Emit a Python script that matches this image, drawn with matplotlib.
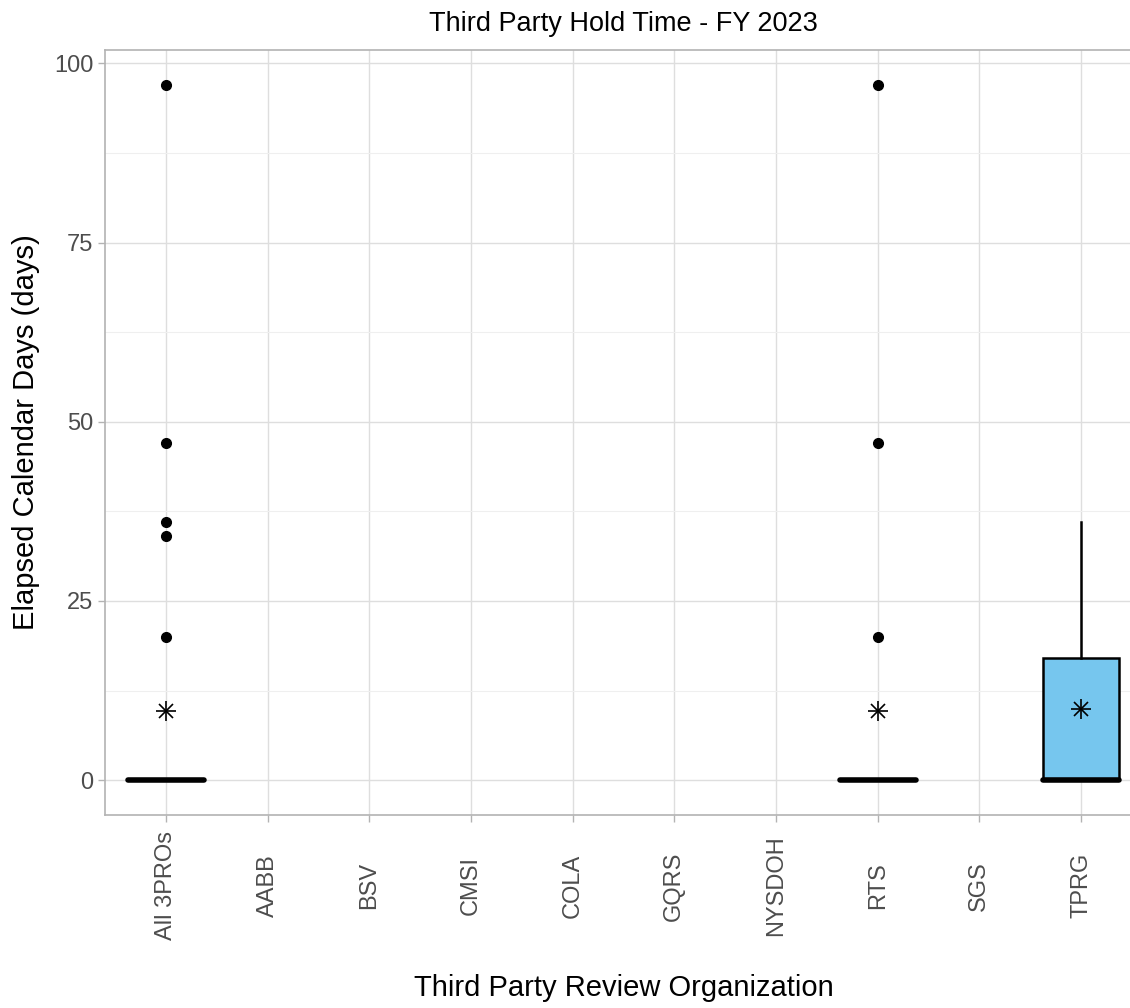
import matplotlib
matplotlib.use("Agg")
import matplotlib.pyplot as plt

plt.rcParams['font.family'] = ['Liberation Sans', 'DejaVu Sans']

# categories on the x axis
orgs = ["All 3PROs", "AABB", "BSV", "CMSI", "COLA", "GQRS", "NYSDOH", "RTS", "SGS", "TPRG"]

# box stats, only for the orgs that have data
box_orgs = ["All 3PROs", "RTS", "TPRG"]
q1 = [0, 0, 0]
med = [0, 0, 0]
q3 = [0, 0, 17]
whislo = [0, 0, 0]
whishi = [0, 0, 36]
means = [9.7, 9.7, 10.0]
fliers = [[20, 34, 36, 47, 97], [20, 47, 97], []]

fill = "#76C6EE"

fig = plt.figure(figsize=(11.3, 10.08), dpi=100)
ax = fig.add_axes([105/1130, 1 - 815/1008, (1142 - 105)/1130, (815 - 50)/1008])

stats = []
for i in range(len(box_orgs)):
    stats.append(dict(q1=q1[i], med=med[i], q3=q3[i], whislo=whislo[i],
                      whishi=whishi[i], fliers=fliers[i], mean=means[i]))
pos = [orgs.index(o) + 1 for o in box_orgs]

ax.bxp(stats, positions=pos, widths=0.75, patch_artist=True, showcaps=False,
       boxprops=dict(facecolor=fill, edgecolor="black", linewidth=1.8),
       medianprops=dict(color="black", linewidth=4, solid_capstyle="round"),
       whiskerprops=dict(color="black", linewidth=1.8),
       flierprops=dict(marker="o", markerfacecolor="black", markeredgecolor="black",
                       markersize=7),
       zorder=3)

# mean as asterisk (plus + x)
ax.plot(pos, means, linestyle="none", marker="+", color="black", markersize=15,
        markeredgewidth=1.2, zorder=4)
ax.plot(pos, means, linestyle="none", marker="x", color="black", markersize=10.5,
        markeredgewidth=1.2, zorder=4)

ax.set_xlim(0.4, 10.6)
ax.set_ylim(-4.85, 101.85)
ax.set_xticks(range(1, len(orgs) + 1))
ax.set_xticklabels(orgs, rotation=90)
ax.set_yticks([0, 25, 50, 75, 100])
ax.set_yticks([12.5, 37.5, 62.5, 87.5], minor=True)

ax.grid(True, which="major", color="#DEDEDE", linewidth=1.0, zorder=0)
ax.grid(True, which="minor", axis="y", color="#EFEFEF", linewidth=0.8, zorder=0)
ax.set_axisbelow(True)

for s in ax.spines.values():
    s.set_color("#B3B3B3")
    s.set_linewidth(1.2)

ax.tick_params(axis="both", which="major", colors="#B3B3B3", length=5, width=1,
               labelcolor="#4D4D4D", labelsize=17)
ax.tick_params(axis="y", which="minor", length=0)
# x labels are centred vertically (ggplot vjust = 0.5)
ax.tick_params(axis="x", pad=46)
for lab in ax.get_xticklabels():
    lab.set_va("center")

ax.set_title("Third Party Hold Time - FY 2023", fontsize=19.5, pad=14)
ax.set_xlabel("Third Party Review Organization", fontsize=21, labelpad=24)
ax.set_ylabel("Elapsed Calendar Days (days)", fontsize=21, labelpad=10)

fig.savefig("out.png", dpi=100)
